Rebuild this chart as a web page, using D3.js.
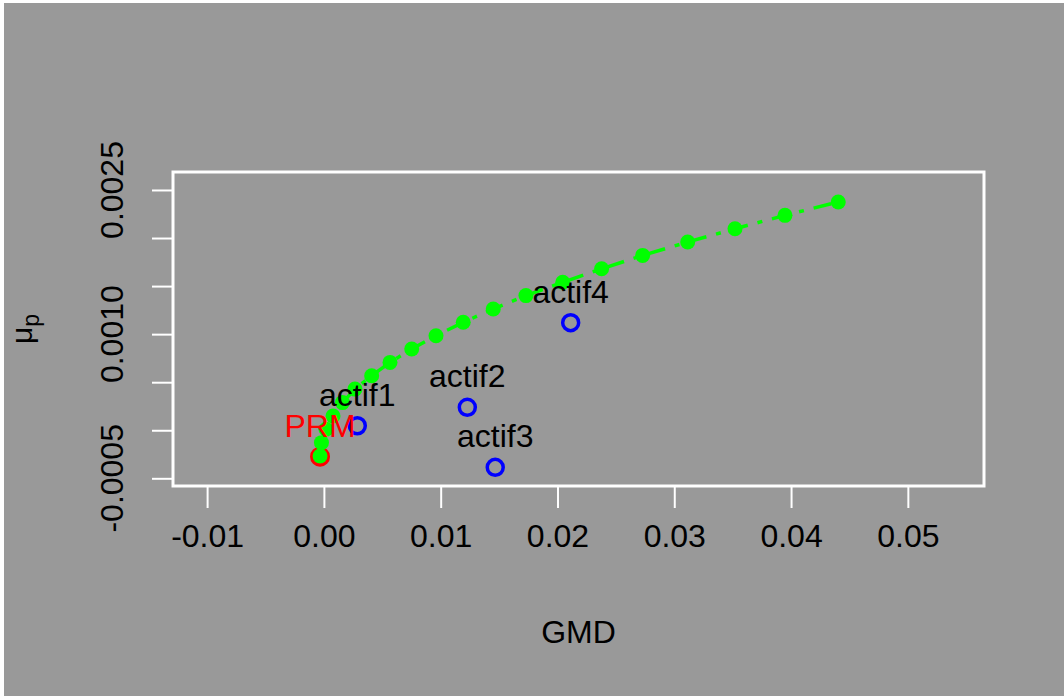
<!DOCTYPE html>
<html>
<head>
<meta charset="utf-8">
<script src="https://cdn.jsdelivr.net/npm/d3@7"></script>
<style>
  html, body { margin: 0; padding: 0; background: #ffffff; }
  svg { display: block; }
  text { font-family: "Liberation Sans", Arial, Helvetica, sans-serif; }
</style>
</head>
<body>
<div id="chart"></div>
<script>
// Efficient frontier (GMD vs mean return), R base-graphics look

// frontier portfolios
const frontierGMD = [-0.00033, -0.00021, 0.00018, 0.00078, 0.00159, 0.00266, 0.00409, 0.00566, 0.00752, 0.00960,
                     0.01193, 0.01450, 0.01730, 0.02045, 0.02378, 0.02729, 0.03115, 0.03520, 0.03948, 0.04404];
const frontierMu  = [-0.000268, -0.000129, 0.000010, 0.000149, 0.000288, 0.000428, 0.000567, 0.000706, 0.000845, 0.000984,
                     0.001123, 0.001262, 0.001401, 0.001540, 0.001680, 0.001819, 0.001958, 0.002097, 0.002236, 0.002375];

// single assets
const assetNames = ['actif1', 'actif2', 'actif3', 'actif4'];
const assetGMD   = [0.00286, 0.01228, 0.01467, 0.02113];
const assetMu    = [0.000047, 0.000239, -0.000386, 0.001119];

// minimum-risk portfolio
const prmName = 'PRM';
const prmGMD = -0.00033;
const prmMu = -0.000275;

// axes
const xTicks = [-0.01, 0.00, 0.01, 0.02, 0.03, 0.04, 0.05];
const xTickLabels = ['-0.01', '0.00', '0.01', '0.02', '0.03', '0.04', '0.05'];
const yTicks = [-0.0005, 0.0000, 0.0005, 0.0010, 0.0015, 0.0020, 0.0025];
const yTickLabels = ['-0.0005', '', '', '0.0010', '', '', '0.0025'];
const xDomain = [-0.01292, 0.05652];
const yDomain = [-0.00058, 0.002687];

const W = 1064, H = 696;
const plot = {left: 173, right: 984, top: 172, bottom: 486};
const fontSize = 32;

const svg = d3.select('#chart').append('svg')
    .attr('width', W)
    .attr('height', H);

// gray device background (thin white strip on top/left like the screenshot)
svg.append('rect')
    .attr('x', 4).attr('y', 3)
    .attr('width', W - 4).attr('height', H - 3)
    .attr('fill', '#999999');

const x = d3.scaleLinear().domain(xDomain).range([plot.left, plot.right]);
const y = d3.scaleLinear().domain(yDomain).range([plot.bottom, plot.top]);

// x axis
const xAxis = d3.axisBottom(x)
    .tickValues(xTicks)
    .tickFormat((d, i) => xTickLabels[i])
    .tickSize(22)
    .tickPadding(16);

const gx = svg.append('g')
    .attr('transform', `translate(0,${plot.bottom})`)
    .call(xAxis);
gx.select('.domain').remove();
gx.selectAll('.tick line').attr('stroke', '#ffffff').attr('stroke-width', 2);
gx.selectAll('.tick text')
    .attr('fill', '#000000')
    .style('font-size', fontSize + 'px')
    .attr('dy', '0.71em');

// y axis (labels parallel to the axis, as R does)
const yAxis = d3.axisLeft(y)
    .tickValues(yTicks)
    .tickFormat('')
    .tickSize(21);

const gy = svg.append('g')
    .attr('transform', `translate(${plot.left},0)`)
    .call(yAxis);
gy.select('.domain').remove();
gy.selectAll('.tick line').attr('stroke', '#ffffff').attr('stroke-width', 2);

svg.append('g')
    .selectAll('text')
    .data(yTicks.map((v, i) => ({v, label: yTickLabels[i]})).filter(d => d.label))
    .enter()
    .append('text')
    .attr('transform', d => `translate(123,${y(d.v)}) rotate(-90)`)
    .attr('text-anchor', 'middle')
    .attr('fill', '#000000')
    .style('font-size', fontSize + 'px')
    .text(d => d.label);

// box
svg.append('rect')
    .attr('x', plot.left).attr('y', plot.top)
    .attr('width', plot.right - plot.left)
    .attr('height', plot.bottom - plot.top)
    .attr('fill', 'none')
    .attr('stroke', '#ffffff')
    .attr('stroke-width', 3);

// axis titles
svg.append('text')
    .attr('x', (plot.left + plot.right) / 2)
    .attr('y', 643)
    .attr('text-anchor', 'middle')
    .attr('fill', '#000000')
    .style('font-size', fontSize + 'px')
    .text('GMD');

const yTitle = svg.append('text')
    .attr('transform', `translate(32,${(plot.top + plot.bottom) / 2}) rotate(-90)`)
    .attr('text-anchor', 'middle')
    .attr('fill', '#000000')
    .style('font-size', '30px');
yTitle.append('tspan').text('μ');
yTitle.append('tspan')
    .attr('dy', 7)
    .style('font-size', '23px')
    .text('p');

// red PRM circle
svg.append('circle')
    .attr('cx', x(prmGMD))
    .attr('cy', y(prmMu))
    .attr('r', 8)
    .attr('fill', 'none')
    .attr('stroke', '#ff0000')
    .attr('stroke-width', 4);

// frontier line + points
const frontier = frontierGMD.map((g, i) => ({g, m: frontierMu[i]}));

svg.append('path')
    .datum(frontier)
    .attr('fill', 'none')
    .attr('stroke', '#00ff00')
    .attr('stroke-width', 3.5)
    .attr('stroke-dasharray', '5,10,18,10')
    .attr('d', d3.line().x(d => x(d.g)).y(d => y(d.m)));

svg.append('g')
    .selectAll('circle')
    .data(frontier)
    .enter()
    .append('circle')
    .attr('cx', d => x(d.g))
    .attr('cy', d => y(d.m))
    .attr('r', 7.5)
    .attr('fill', '#00ff00');

// assets
const assets = assetNames.map((n, i) => ({n, g: assetGMD[i], m: assetMu[i]}));

svg.append('g')
    .selectAll('circle')
    .data(assets)
    .enter()
    .append('circle')
    .attr('cx', d => x(d.g))
    .attr('cy', d => y(d.m))
    .attr('r', 8)
    .attr('fill', 'none')
    .attr('stroke', '#0000ff')
    .attr('stroke-width', 3.5);

svg.append('g')
    .selectAll('text')
    .data(assets)
    .enter()
    .append('text')
    .attr('x', d => x(d.g))
    .attr('y', d => y(d.m) - 20)
    .attr('text-anchor', 'middle')
    .attr('fill', '#000000')
    .style('font-size', fontSize + 'px')
    .text(d => d.n);

svg.append('text')
    .attr('x', x(prmGMD))
    .attr('y', y(prmMu) - 20)
    .attr('text-anchor', 'middle')
    .attr('fill', '#ff0000')
    .style('font-size', fontSize + 'px')
    .text(prmName);
</script>
</body>
</html>
